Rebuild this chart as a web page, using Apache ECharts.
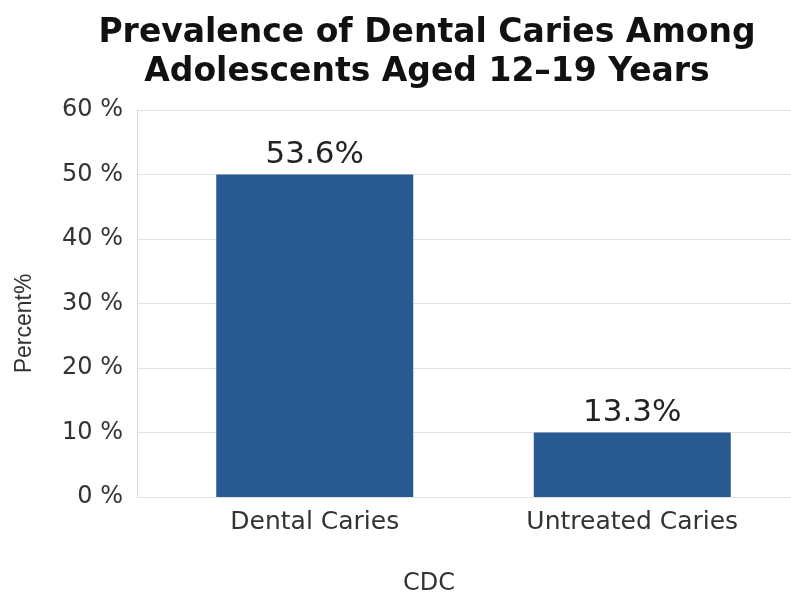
<!DOCTYPE html>
<html>
<head>
<meta charset="utf-8">
<script src="https://cdn.jsdelivr.net/npm/echarts@6/dist/echarts.min.js"></script>
<style>
    html, body { margin: 0; padding: 0; background: #fff; }
    #main { width: 791px; height: 597px; }
</style>
</head>
<body>
<div id="main"></div>
<script>
var categories = ['Dental Caries', 'Untreated Caries'];
var barValues = [50, 10];
var barLabels = ['53.6%', '13.3%'];
var yTicks = [0, 10, 20, 30, 40, 50, 60];

var myChart = echarts.init(document.getElementById('main'));

// grid 0 carries the y axis and gridlines, grid 1 places the bars
option = {
    backgroundColor: '#fff',
    title: [{
        text: 'Prevalence of Dental Caries Among\nAdolescents Aged 12\u201319 Years',
        left: 422,
        textAlign: 'center',
        top: 9,
        textStyle: {
            fontFamily: 'DejaVu Sans',
            fontWeight: 'bold',
            fontSize: 33,
            lineHeight: 39,
            color: '#111'
        }
    }, {
        text: 'CDC',
        left: 424,
        textAlign: 'center',
        top: 567,
        textStyle: {
            fontFamily: 'DejaVu Sans',
            fontWeight: 'normal',
            fontSize: 24,
            color: '#333'
        }
    }],
    grid: [{
        left: 137,
        right: 0,
        top: 110,
        bottom: 100
    }, {
        left: 156,
        right: 0,
        top: 110,
        bottom: 100
    }],
    xAxis: [{
        gridIndex: 0,
        type: 'category',
        data: categories,
        show: false
    }, {
        gridIndex: 1,
        type: 'category',
        data: categories,
        axisLine: { show: false },
        axisTick: { show: false },
        axisLabel: {
            margin: 13,
            fontFamily: 'DejaVu Sans',
            fontSize: 25,
            color: '#333'
        }
    }],
    yAxis: [{
        gridIndex: 0,
        type: 'value',
        min: yTicks[0],
        max: yTicks[yTicks.length - 1],
        interval: 10,
        axisLine: { show: true, lineStyle: { color: '#d8d8d8' } },
        axisTick: { show: false },
        splitLine: { lineStyle: { color: '#e2e2e2', width: 1 } },
        axisLabel: {
            formatter: '{value} %',
            margin: 14,
            fontFamily: 'DejaVu Sans',
            fontSize: 24,
            color: '#333'
        },
        name: 'Percent%',
        nameLocation: 'middle',
        nameGap: 101,
        nameTextStyle: {
            fontFamily: 'Liberation Sans',
            fontSize: 23,
            color: '#333',
            padding: [0, 0, 0, -40]
        }
    }, {
        gridIndex: 1,
        type: 'value',
        min: yTicks[0],
        max: yTicks[yTicks.length - 1],
        interval: 10,
        show: false
    }],
    series: [{
        name: 'Prevalence',
        type: 'bar',
        xAxisIndex: 1,
        yAxisIndex: 1,
        data: barValues,
        barWidth: 197,
        itemStyle: {
            color: '#2a5a92'
        },
        label: {
            show: true,
            position: 'top',
            distance: 4,
            fontFamily: 'DejaVu Sans',
            fontSize: 31,
            color: '#222',
            formatter: function (p) {
                return barLabels[p.dataIndex];
            }
        }
    }]
};

myChart.setOption(option);
</script>
</body>
</html>
